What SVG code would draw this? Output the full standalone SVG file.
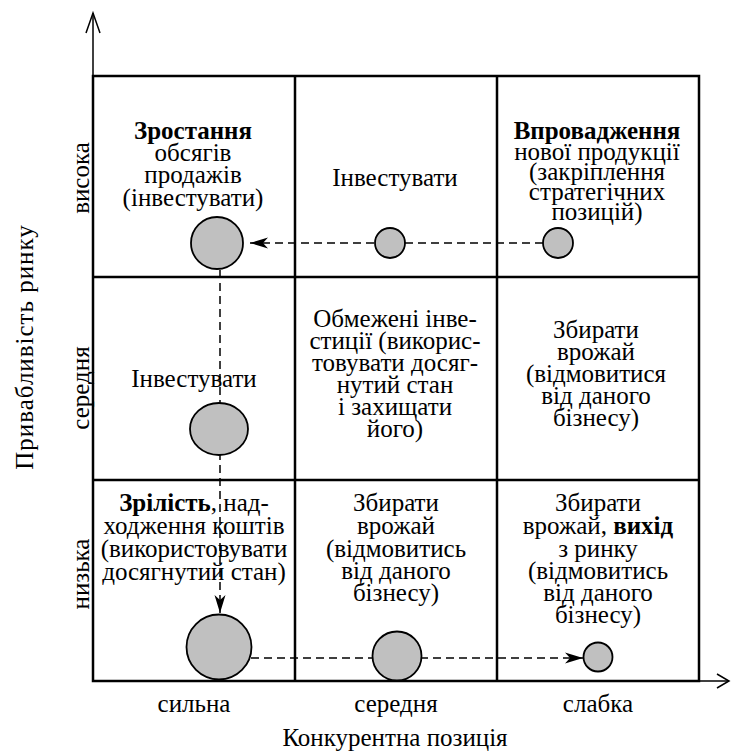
<svg xmlns="http://www.w3.org/2000/svg" width="731" height="751" viewBox="0 0 731 751">
<style>
.t{font-family:"Liberation Serif","Times New Roman",serif;font-size:25px;fill:#000;text-anchor:middle}
.b{font-weight:bold}
.grid{fill:none;stroke:#000;stroke-width:2.5}
.axis{fill:none;stroke:#000;stroke-width:1.5}
.dash{fill:none;stroke:#000;stroke-width:1.5;stroke-dasharray:8 5}
.bub{fill:#c0c0c0;stroke:#000;stroke-width:1.8}
</style>
<defs>
<marker id="ah" viewBox="-19 -7 21 14" refX="0" refY="0" markerWidth="21" markerHeight="14" markerUnits="userSpaceOnUse" orient="auto">
<path d="M0,0 L-18,-5.5 L-13,0 L-18,5.5 Z" fill="#000"/>
</marker>
</defs>
<g id="axes">
<line class="axis" x1="93" y1="681" x2="93" y2="13"/>
<polyline class="axis" points="86,33 93,13 100,33"/>
<line class="axis" x1="93" y1="681" x2="729" y2="681"/>
<polyline class="axis" points="717,674 729,681 717,688"/>
</g>
<g id="grid">
<rect class="grid" x="93" y="76" width="606" height="605"/>
<line class="grid" x1="295" y1="76" x2="295" y2="681"/>
<line class="grid" x1="497" y1="76" x2="497" y2="681"/>
<line class="grid" x1="93" y1="277" x2="699" y2="277"/>
<line class="grid" x1="93" y1="480" x2="699" y2="480"/>
</g>
<g id="axis-labels">
<text class="t" x="194" y="712">сильна</text>
<text class="t" x="396" y="712">середня</text>
<text class="t" x="598" y="712">слабка</text>
<text class="t" x="395" y="746">Конкурентна позиція</text>
<text class="t" transform="translate(89,178) rotate(-90)">висока</text>
<text class="t" transform="translate(89,388) rotate(-90)">середня</text>
<text class="t" transform="translate(89,574) rotate(-90)">низька</text>
<text class="t" transform="translate(33,347) rotate(-90)" style="letter-spacing:1px">Привабливість ринку</text>
</g>
<g id="cell-high-strong">
<text class="t" x="193"><tspan class="b" x="193" y="139">Зростання</tspan><tspan x="193" y="161">обсягів</tspan><tspan x="193" y="183">продажів</tspan><tspan x="193" y="206">(інвестувати)</tspan></text>
</g>
<g id="cell-high-medium">
<text class="t" x="395" y="186">Інвестувати</text>
</g>
<g id="cell-high-weak">
<text class="t" x="597"><tspan class="b" x="597" y="139">Впровадження</tspan><tspan x="597" y="160">нової продукції</tspan><tspan x="597" y="180">(закріплення</tspan><tspan x="597" y="200">стратегічних</tspan><tspan x="597" y="220">позицій)</tspan></text>
</g>
<g id="cell-mid-strong">
<text class="t" x="194" y="387">Інвестувати</text>
</g>
<g id="cell-mid-medium">
<text class="t" x="395"><tspan x="395" y="327">Обмежені інве-</tspan><tspan x="395" y="349">стиції (викорис-</tspan><tspan x="395" y="371">товувати досяг-</tspan><tspan x="395" y="393">нутий стан</tspan><tspan x="395" y="415">і захищати</tspan><tspan x="395" y="437">його)</tspan></text>
</g>
<g id="cell-mid-weak">
<text class="t" x="596"><tspan x="596" y="338">Збирати</tspan><tspan x="596" y="360">врожай</tspan><tspan x="596" y="382">(відмовитися</tspan><tspan x="596" y="404">від даного</tspan><tspan x="596" y="426">бізнесу)</tspan></text>
</g>
<g id="cell-low-strong">
<text class="t" x="194"><tspan x="194" y="511"><tspan class="b">Зрілість</tspan>, над-</tspan><tspan x="194" y="534">ходження коштів</tspan><tspan x="194" y="557">(використовувати</tspan><tspan x="194" y="580">досягнутий стан)</tspan></text>
</g>
<g id="cell-low-medium">
<text class="t" x="396"><tspan x="396" y="511">Збирати</tspan><tspan x="396" y="534">врожай</tspan><tspan x="396" y="557">(відмовитись</tspan><tspan x="396" y="579">від даного</tspan><tspan x="396" y="601">бізнесу)</tspan></text>
</g>
<g id="cell-low-weak">
<text class="t" x="598"><tspan x="598" y="511">Збирати</tspan><tspan x="598" y="534">врожай, <tspan class="b">вихід</tspan></tspan><tspan x="598" y="557">з ринку</tspan><tspan x="598" y="579">(відмовитись</tspan><tspan x="598" y="601">від даного</tspan><tspan x="598" y="623">бізнесу)</tspan></text>
</g>
<g id="connectors">
<line class="dash" x1="543" y1="243" x2="250" y2="243" marker-end="url(#ah)"/>
<line class="dash" x1="220" y1="270" x2="220" y2="613" marker-end="url(#ah)"/>
<line class="dash" x1="251" y1="658" x2="583" y2="658" marker-end="url(#ah)"/>
</g>
<g id="bubble-high-strong"><circle class="bub" cx="217" cy="243" r="26"/></g>
<g id="bubble-high-medium"><circle class="bub" cx="390" cy="243" r="15"/></g>
<g id="bubble-high-weak"><circle class="bub" cx="558" cy="243" r="15"/></g>
<g id="bubble-mid-strong"><ellipse class="bub" cx="219" cy="429" rx="29" ry="26"/></g>
<g id="bubble-low-strong"><circle class="bub" cx="219" cy="647" r="32.5"/></g>
<g id="bubble-low-medium"><circle class="bub" cx="397" cy="656" r="24.5"/></g>
<g id="bubble-low-weak"><circle class="bub" cx="598" cy="657" r="14.5"/></g>
</svg>
